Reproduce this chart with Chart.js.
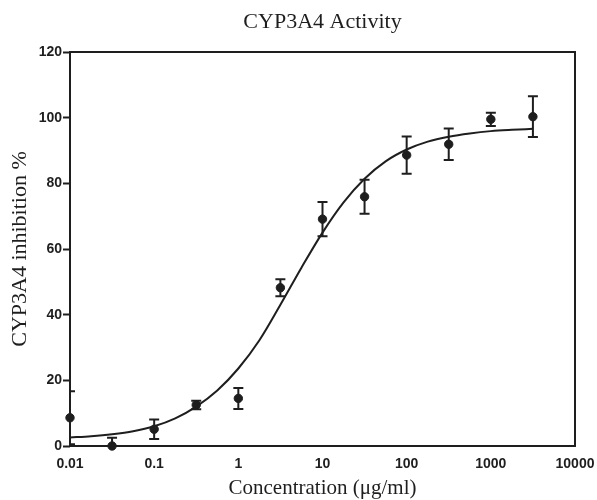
<!DOCTYPE html>
<html>
<head>
<meta charset="utf-8">
<script src="https://cdn.jsdelivr.net/npm/chart.js@4.4.1/dist/chart.umd.min.js"></script>
<style>
  body { margin: 0; background: #fff; }
  #wrap { width: 597px; height: 500px; }
</style>
</head>
<body>
<div id="wrap"><canvas id="grafico" width="597" height="500"></canvas></div>
<script>
// measured points (mean +/- error)
var conc = [0.01, 0.0316, 0.1, 0.316, 1, 3.16, 10, 31.6, 100, 316, 1000, 3162];
var inhibicion = [8.6, 0, 5.1, 12.5, 14.5, 48.2, 69.1, 75.9, 88.6, 91.9, 99.5, 100.3];
var error_inh = [8.1, 2.5, 3.0, 1.3, 3.2, 2.6, 5.2, 5.2, 5.7, 4.8, 2.0, 6.2];

// fitted curve
var curva_x = [0.01, 0.0178, 0.0316, 0.0562, 0.1, 0.178, 0.316, 0.562, 1, 1.78, 3.16, 5.62,
    10, 17.8, 31.6, 56.2, 100, 178, 316, 562, 1000, 1780, 3162];
var curva_y = [2.6, 3.0, 3.6, 4.5, 6.0, 8.4, 12.0, 16.9, 23.6, 32.2, 43.0, 54.3,
    65.0, 74.2, 81.4, 86.7, 90.3, 92.7, 94.2, 95.2, 95.9, 96.3, 96.6];

var ticks_x = [0.01, 0.1, 1, 10, 100, 1000, 10000];
var labels_x = ['0.01', '0.1', '1', '10', '100', '1000', '10000'];

var color_tinta = '#1e1e1e';

var marco = {
    id: 'marco',
    beforeDatasetsDraw: function (chart) {
        var a = chart.chartArea;
        var ctx = chart.ctx;
        ctx.save();
        ctx.strokeStyle = color_tinta;
        ctx.lineWidth = 2;
        ctx.strokeRect(a.left, a.top, a.right - a.left, a.bottom - a.top);
        ctx.restore();
    }
};

var barras_error = {
    id: 'barras_error',
    afterDatasetsDraw: function (chart) {
        var a = chart.chartArea;
        var ctx = chart.ctx;
        var sx = chart.scales.x;
        var sy = chart.scales.y;
        ctx.save();
        ctx.beginPath();
        ctx.rect(a.left, a.top - 10, a.right - a.left, a.bottom - a.top + 10);
        ctx.clip();
        ctx.strokeStyle = color_tinta;
        ctx.lineWidth = 2;
        for (var i = 0; i < conc.length; i++) {
            var px = sx.getPixelForValue(conc[i]);
            var arriba = sy.getPixelForValue(inhibicion[i] + error_inh[i]);
            var abajo = sy.getPixelForValue(inhibicion[i] - error_inh[i]);
            ctx.beginPath();
            ctx.moveTo(px, arriba);
            ctx.lineTo(px, abajo);
            ctx.moveTo(px - 5, arriba);
            ctx.lineTo(px + 5, arriba);
            ctx.moveTo(px - 5, abajo);
            ctx.lineTo(px + 5, abajo);
            ctx.stroke();
        }
        ctx.restore();
    }
};

var puntos = conc.map(function (c, i) { return { x: c, y: inhibicion[i] }; });
var linea = curva_x.map(function (c, i) { return { x: c, y: curva_y[i] }; });

var grafico = new Chart(document.getElementById('grafico').getContext('2d'), {
    type: 'scatter',
    data: {
        datasets: [{
            data: linea,
            showLine: true,
            borderColor: color_tinta,
            borderWidth: 2,
            pointRadius: 0,
            cubicInterpolationMode: 'monotone',
            fill: false,
        }, {
            data: puntos,
            showLine: false,
            pointRadius: 4.2,
            pointBackgroundColor: color_tinta,
            pointBorderColor: color_tinta,
            clip: false,
        }]
    },
    plugins: [marco, barras_error],
    options: {
        responsive: false,
        animation: false,
        layout: { padding: { left: 0, right: 22, top: 0, bottom: 0 } },
        plugins: {
            legend: { display: false },
            tooltip: { enabled: false },
            title: {
                display: true,
                fullSize: false,
                text: 'CYP3A4 Activity',
                color: color_tinta,
                font: { family: 'Liberation Serif', size: 22, weight: 'normal', lineHeight: 1.2 },
                padding: { top: 9, bottom: 16.6 }
            }
        },
        scales: {
            x: {
                type: 'logarithmic',
                min: 0.01,
                max: 10000,
                afterBuildTicks: function (scale) {
                    scale.ticks = ticks_x.map(function (v) { return { value: v }; });
                },
                afterFit: function (scale) {
                    scale.height = 54;
                    scale.paddingLeft = 0;
                    scale.paddingRight = 0;
                },
                border: { display: false },
                grid: { display: false, drawTicks: false },
                ticks: {
                    autoSkip: false,
                    maxRotation: 0,
                    padding: 10,
                    color: color_tinta,
                    font: { family: 'Liberation Sans', size: 14, weight: 'bold' },
                    callback: function (value, index) { return labels_x[index]; }
                },
                title: {
                    display: true,
                    text: 'Concentration (μg/ml)',
                    color: color_tinta,
                    font: { family: 'Liberation Serif', size: 21, lineHeight: 1 },
                    padding: { top: 0, bottom: 1 }
                }
            },
            y: {
                min: 0,
                max: 120,
                afterFit: function (scale) {
                    scale.width = 70;
                    scale.paddingTop = 0;
                    scale.paddingBottom = 0;
                },
                border: { display: false },
                grid: { drawOnChartArea: false, drawTicks: true, tickLength: 7, tickColor: color_tinta, tickWidth: 2 },
                ticks: {
                    stepSize: 20,
                    padding: 1,
                    color: color_tinta,
                    font: { family: 'Liberation Sans', size: 14, weight: 'bold' }
                },
                title: {
                    display: true,
                    text: 'CYP3A4 inhibition %',
                    color: color_tinta,
                    font: { family: 'Liberation Serif', size: 22, lineHeight: 1 },
                    padding: { top: 9, bottom: 0 }
                }
            }
        }
    }
});
</script>
</body>
</html>
